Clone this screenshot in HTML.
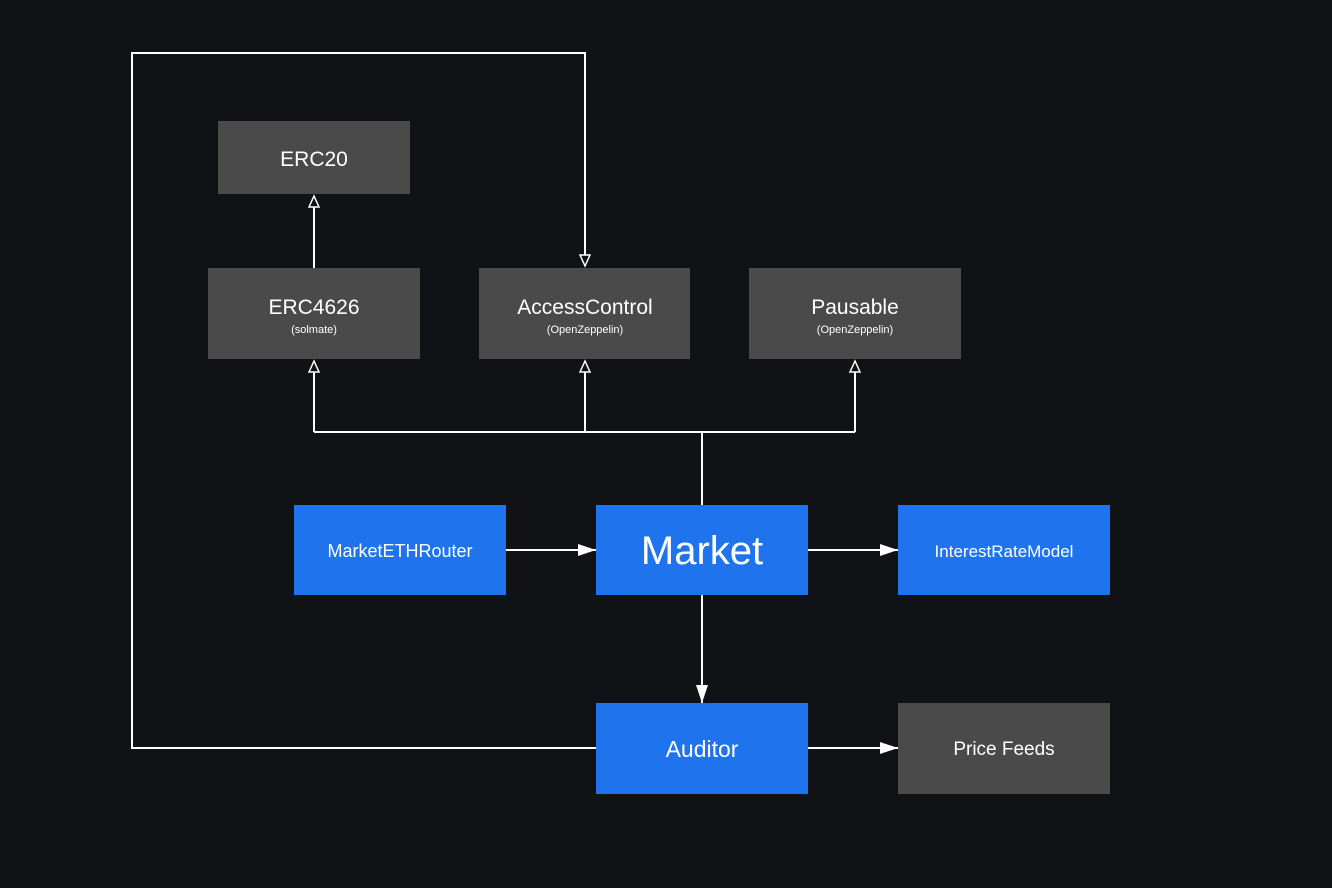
<!DOCTYPE html>
<html><head><meta charset="utf-8"><style>
html,body{margin:0;padding:0;background:#111216;}
svg{display:block;}
text{font-family:"Liberation Sans",sans-serif;fill:#fff;text-anchor:middle;}
</style></head><body>
<svg width="1332" height="888" viewBox="0 0 1332 888">
<rect width="1332" height="888" fill="#111216"/>
<defs>
<marker id="h" markerWidth="14" markerHeight="12" refX="12" refY="6" orient="auto" markerUnits="userSpaceOnUse">
<path d="M1,1 L12,6 L1,11 Z" fill="#111216" stroke="#fff" stroke-width="1.5"/></marker>
<marker id="f" markerWidth="20" markerHeight="14" refX="18" refY="7" orient="auto" markerUnits="userSpaceOnUse">
<path d="M0,1 L18,7 L0,13 Z" fill="#fff"/></marker>
</defs>
<g stroke="#fff" stroke-width="2" fill="none">
<path d="M596,748 H132 V53 H585 V266" marker-end="url(#h)"/>
<path d="M314,268 V196" marker-end="url(#h)"/>
<path d="M702,505 V432"/>
<path d="M314,432 H855"/>
<path d="M314,432 V361" marker-end="url(#h)"/>
<path d="M585,432 V361" marker-end="url(#h)"/>
<path d="M855,432 V361" marker-end="url(#h)"/>
<path d="M506,550 H596" marker-end="url(#f)"/>
<path d="M808,550 H898" marker-end="url(#f)"/>
<path d="M702,595 V703" marker-end="url(#f)"/>
<path d="M808,748 H898" marker-end="url(#f)"/>
</g>
<g fill="#4a4a4a">
<rect x="218" y="121" width="192" height="73"/>
<rect x="208" y="268" width="212" height="91"/>
<rect x="479" y="268" width="211" height="91"/>
<rect x="749" y="268" width="212" height="91"/>
<rect x="898" y="703" width="212" height="91"/>
</g>
<g fill="#1f74ee">
<rect x="294" y="505" width="212" height="90"/>
<rect x="596" y="505" width="212" height="90"/>
<rect x="898" y="505" width="212" height="90"/>
<rect x="596" y="703" width="212" height="91"/>
</g>
<text x="314" y="166" font-size="21">ERC20</text>
<text x="314" y="314" font-size="21">ERC4626</text>
<text x="314" y="333" font-size="11">(solmate)</text>
<text x="585" y="314" font-size="21">AccessControl</text>
<text x="585" y="333" font-size="11">(OpenZeppelin)</text>
<text x="855" y="314" font-size="21">Pausable</text>
<text x="855" y="333" font-size="11">(OpenZeppelin)</text>
<text x="400" y="557" font-size="18">MarketETHRouter</text>
<text x="702" y="564" font-size="40">Market</text>
<text x="1004" y="557" font-size="17">InterestRateModel</text>
<text x="702" y="757" font-size="23">Auditor</text>
<text x="1004" y="755" font-size="19">Price Feeds</text>
</svg>
</body></html>
